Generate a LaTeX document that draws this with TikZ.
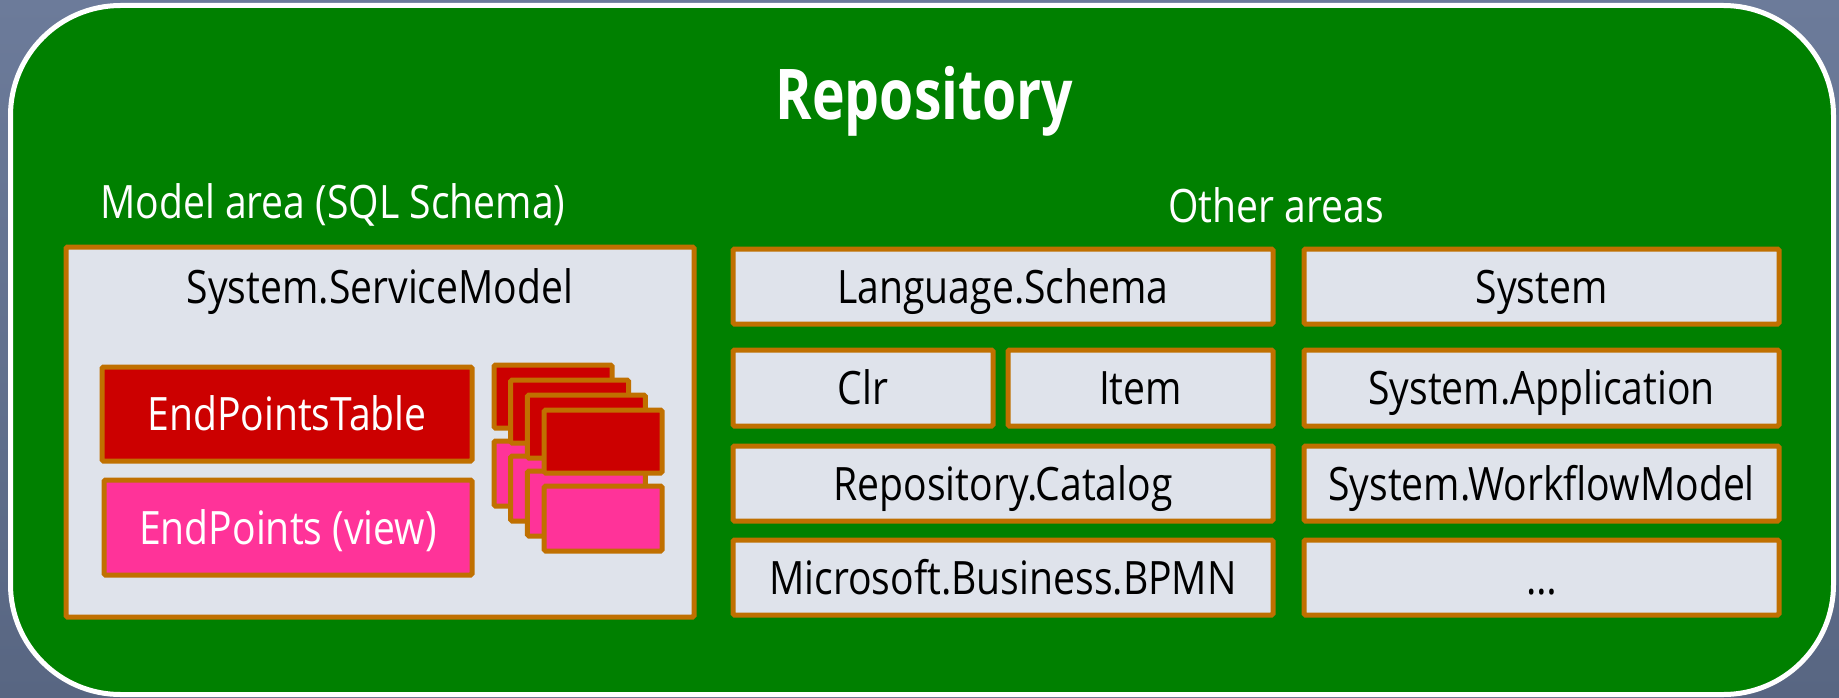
\documentclass[tikz,border=0pt]{standalone}
\usepackage{fontspec}
\setmainfont[FakeStretch=0.85]{Open Sans}
\newfontfamily\titlefont[FakeStretch=0.79]{Open Sans}
\definecolor{bgtop}{RGB}{108,123,154}
\definecolor{bgbot}{RGB}{88,102,130}
\definecolor{panelgreen}{RGB}{0,128,0}
\definecolor{boxfill}{RGB}{223,227,235}
\definecolor{boxline}{RGB}{192,112,0}
\definecolor{tablered}{RGB}{204,0,0}
\definecolor{viewpink}{RGB}{255,51,153}
\begin{document}
\begin{tikzpicture}[x=1pt,y=-1pt,
  txt/.style={font=\fontsize{46}{50}\selectfont, text height=33pt, text depth=0pt, inner sep=0pt},
  area/.style={draw=boxline, line width=5pt, fill=boxfill, rounded corners=1.5pt,
    txt, text=black},
  tbl/.style={area, fill=tablered, text=white},
  vw/.style={area, fill=viewpink, text=white},
  heading/.style={txt, text=white}]
\useasboundingbox (0,0) rectangle (1839,698);
% backdrop and repository panel
\shade[top color=bgtop, bottom color=bgbot] (0,0) rectangle (1839,698);
\draw[draw=white, line width=5pt, fill=panelgreen, rounded corners=110pt]
  (10.5,5.5) rectangle (1833.5,694.5);

% headings
\node[font=\titlefont\bfseries\fontsize{70}{78}\selectfont, text=white, text height=50pt, text depth=0pt, inner sep=0pt]
  (title) at (924.5,95) {Repository};
\node[heading, anchor=west] (modelhead) at (100,202) {Model area (SQL Schema)};
\node[heading] (otherhead) at (1276,206) {Other areas};

% model area
\node[area, minimum width=628pt, minimum height=370pt] (model) at (380,432) {};
\node[txt] (modeltitle) at (380,286.5) {System.ServiceModel};
\node[tbl, minimum width=370pt, minimum height=94pt] (eptable) at (287,414) {EndPointsTable};
\node[vw, minimum width=368pt, minimum height=95pt] (epview) at (288,527.5) {EndPoints (view)};

% stacked table/view pairs
\foreach \i in {0,1,2,3}{
  \pgfmathsetmacro{\xx}{553+16.7*\i}
  \pgfmathsetmacro{\yy}{396.5+15*\i}
  \pgfmathsetmacro{\yv}{473.5+15*\i}
  \node[tbl, minimum width=118pt, minimum height=63pt] (stbl\i) at (\xx,\yy) {};
  \node[vw, minimum width=118pt, minimum height=65pt] (svw\i) at (\xx,\yv) {};
}

% other areas
\node[area, minimum width=540pt, minimum height=75pt] (langschema) at (1003,286.5) {Language.Schema};
\node[area, minimum width=475pt, minimum height=75pt] (system) at (1541.5,286.5) {System};
\node[area, minimum width=260pt, minimum height=76pt] (clr) at (863,388) {Clr};
\node[area, minimum width=265pt, minimum height=76pt] (item) at (1140.5,388) {Item};
\node[area, minimum width=475pt, minimum height=76pt] (sysapp) at (1541.5,388) {System.Application};
\node[area, minimum width=540pt, minimum height=75pt] (catalog) at (1003,483.5) {Repository.Catalog};
\node[area, minimum width=475pt, minimum height=75pt] (workflow) at (1541.5,483.5) {System.WorkflowModel};
\node[area, minimum width=540pt, minimum height=75pt] (bpmn) at (1003,577.5) {Microsoft.Business.BPMN};
\node[area, minimum width=475pt, minimum height=75pt] (more) at (1541.5,577.5) {\dots};
\end{tikzpicture}
\end{document}
